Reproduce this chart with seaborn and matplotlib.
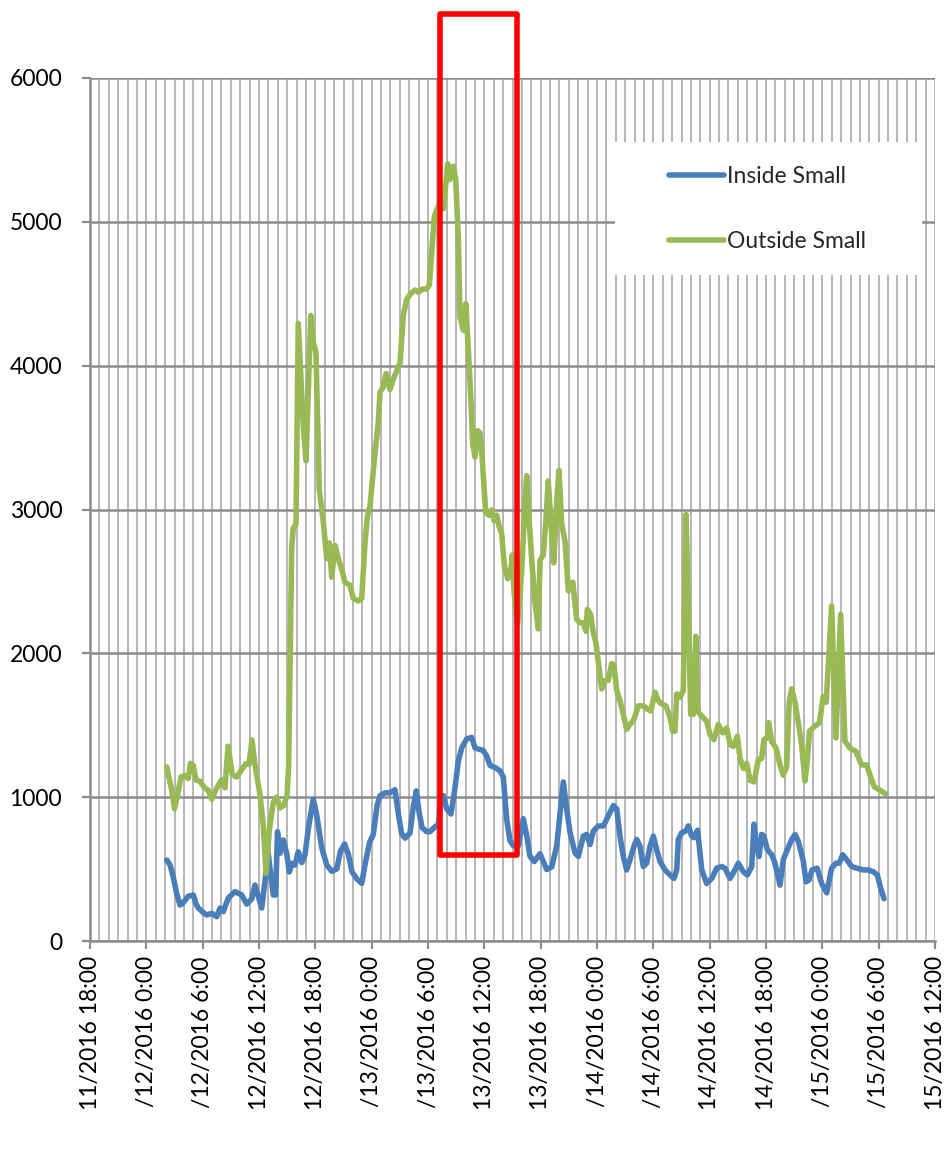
import matplotlib
matplotlib.use("Agg")
import matplotlib.pyplot as plt
import numpy as np
import pandas as pd
import seaborn as sns
from matplotlib.patches import Rectangle
from matplotlib.ticker import MultipleLocator

# ---------------- data (hours after 12/11/2016 18:00) ----------------
outside_hours = [8.17, 8.70, 9.00, 9.37, 9.69, 10.12, 10.47, 10.70, 11.00, 11.29, 11.72, 12.20, 12.57, 12.96,
                 13.50, 14.03, 14.38, 14.70, 15.16, 15.63, 16.14, 16.62, 16.94, 17.25, 17.57, 18.11, 18.46,
                 18.75, 19.10, 19.52, 19.89, 20.24, 20.66, 20.98, 21.16, 21.48, 21.65, 21.94, 22.18, 22.72,
                 23.01, 23.51, 23.78, 24.07, 24.42, 24.85, 25.21, 25.49, 25.74, 26.10, 26.45, 26.81, 27.16,
                 27.69, 28.04, 28.58, 28.94, 29.29, 29.54, 29.82, 30.36, 30.71, 30.89, 31.24, 31.53, 31.95,
                 32.31, 32.67, 33.02, 33.37, 33.73, 34.08, 34.62, 34.97, 35.44, 35.86, 36.14, 36.39, 36.67,
                 37.10, 37.63, 37.89, 38.10, 38.34, 38.70, 38.95, 39.23, 39.41, 39.76, 40.02, 40.29, 40.58,
                 40.76, 41.01, 41.29, 41.54, 41.78, 42.15, 42.50, 42.78, 43.03, 43.32, 43.56, 43.85, 44.13,
                 44.49, 44.84, 44.98, 45.19, 45.55, 45.98, 46.33, 46.51, 46.76, 47.05, 47.40, 47.75, 47.93,
                 48.28, 48.54, 48.81, 49.10, 49.39, 49.71, 49.95, 50.24, 50.59, 50.95, 51.42, 51.84, 52.19,
                 52.54, 52.83, 52.97, 53.33, 53.54, 53.89, 54.25, 54.50, 54.85, 55.20, 55.57, 55.81, 56.10,
                 56.45, 56.80, 57.16, 57.51, 57.94, 58.40, 58.93, 59.36, 59.72, 60.18, 60.53, 60.89, 61.35,
                 61.78, 62.06, 62.31, 62.49, 62.84, 63.19, 63.48, 63.73, 63.98, 64.26, 64.52, 64.71, 64.97,
                 65.32, 65.68, 66.04, 66.46, 66.92, 67.39, 67.82, 68.17, 68.52, 68.95, 69.23, 69.58, 69.94,
                 70.30, 70.72, 71.18, 71.54, 71.78, 72.14, 72.29, 72.61, 73.07, 73.49, 73.84, 74.20, 74.48,
                 74.74, 75.09, 75.44, 75.80, 76.15, 76.40, 76.63, 77.22, 77.70, 78.10, 78.41, 78.99, 79.45,
                 79.95, 80.41, 80.94, 81.58, 82.19, 82.73, 83.13, 83.55, 84.18, 84.72]
outside_small = [1210, 1050, 920, 1030, 1140, 1150, 1130, 1236, 1220, 1119, 1110, 1065, 1050, 985,
                 1064, 1122, 1065, 1355, 1156, 1140, 1190, 1233, 1227, 1398, 1225, 1015, 800,
                 471, 770, 965, 1000, 925, 945, 1010, 1212, 2731, 2874, 2897, 4294, 3577,
                 3338, 4349, 4165, 4092, 3136, 2915, 2658, 2768, 2529, 2750, 2658, 2584, 2492,
                 2474, 2382, 2364, 2382, 2768, 2952, 3025, 3393, 3614, 3816, 3853, 3945, 3834,
                 3908, 3963, 4018, 4349, 4459, 4496, 4526, 4511, 4533, 4533, 4560, 4779, 5037,
                 5110, 5092, 5257, 5404, 5294, 5386, 5294, 4890, 4338, 4246, 4430, 4118, 3750,
                 3456, 3364, 3548, 3530, 3346, 2978, 2960, 2997, 2923, 2960, 2886, 2831, 2611,
                 2519, 2592, 2684, 2408, 2206, 2574, 3052, 3236, 2941, 2647, 2353, 2170, 2647,
                 2684, 2905, 3199, 2905, 2629, 3052, 3272, 2900, 2780, 2435, 2494, 2235, 2212,
                 2212, 2153, 2306, 2271, 2165, 2071, 1882, 1753, 1812, 1812, 1929, 1918, 1741,
                 1671, 1576, 1471, 1506, 1541, 1635, 1635, 1612, 1600, 1729, 1671, 1647, 1635,
                 1553, 1459, 1459, 1718, 1694, 1741, 2965, 2329, 1576, 1576, 2118, 1600, 1576,
                 1553, 1529, 1435, 1400, 1506, 1447, 1482, 1365, 1353, 1424, 1271, 1200, 1235,
                 1118, 1106, 1259, 1271, 1400, 1412, 1518, 1388, 1341, 1224, 1153, 1212, 1671,
                 1753, 1659, 1518, 1365, 1112, 1259, 1459, 1494, 1520, 1700, 1660, 2329, 1412,
                 2271, 1388, 1341, 1318, 1224, 1224, 1141, 1071, 1047, 1024]

inside_hours = [8.17, 8.52, 8.87, 9.23, 9.59, 9.91, 10.44, 11.00, 11.29, 11.53, 12.04, 12.43, 12.96, 13.50,
                13.85, 14.20, 14.73, 15.44, 16.16, 16.69, 17.22, 17.57, 17.93, 18.29, 18.75, 18.90, 19.52,
                19.77, 19.97, 20.24, 20.59, 20.95, 21.23, 21.48, 21.83, 22.18, 22.55, 22.90, 23.25, 23.78,
                24.14, 24.67, 25.21, 25.74, 26.28, 26.68, 27.11, 27.51, 27.91, 28.41, 28.94, 29.29, 29.77,
                30.17, 30.57, 30.89, 31.42, 31.95, 32.48, 32.83, 33.19, 33.55, 34.08, 34.43, 34.75, 35.04,
                35.36, 35.86, 36.21, 36.67, 37.10, 37.38, 37.63, 37.99, 38.45, 38.88, 39.23, 39.59, 40.12,
                40.65, 41.01, 41.54, 41.89, 42.25, 42.60, 43.14, 43.67, 44.02, 44.38, 44.73, 45.09, 45.62,
                46.15, 46.51, 46.86, 47.32, 47.93, 48.28, 48.64, 49.18, 49.71, 50.06, 50.41, 50.77, 51.13,
                51.66, 52.01, 52.54, 52.90, 53.26, 53.61, 54.14, 54.68, 55.03, 55.39, 55.74, 56.10, 56.45,
                56.80, 57.16, 57.51, 57.94, 58.23, 58.58, 58.93, 59.29, 59.65, 60.00, 60.36, 60.71, 61.24,
                61.78, 62.20, 62.49, 62.66, 63.02, 63.48, 63.73, 64.09, 64.33, 64.71, 65.16, 65.68, 66.22,
                66.75, 67.28, 67.63, 68.17, 68.59, 69.05, 69.58, 70.01, 70.48, 70.72, 71.01, 71.26, 71.54,
                71.78, 72.14, 72.61, 72.96, 73.49, 73.84, 74.27, 74.74, 75.09, 75.44, 75.98, 76.26, 76.58,
                76.90, 77.44, 77.93, 78.47, 78.99, 79.45, 79.81, 80.17, 80.59, 81.13, 81.66, 82.37, 82.90,
                83.43, 83.86, 84.22, 84.57]
inside_small = [563, 530, 444, 330, 250, 265, 310, 320, 260, 229, 200, 181, 192, 169,
                229, 204, 299, 343, 320, 257, 292, 389, 308, 229, 480, 650, 320,
                320, 760, 610, 702, 610, 480, 540, 528, 620, 545, 600, 780, 985,
                880, 650, 530, 485, 500, 625, 675, 605, 480, 433, 400, 530, 685,
                740, 940, 1010, 1030, 1030, 1052, 890, 748, 715, 750, 930, 1043, 900,
                790, 760, 760, 790, 809, 993, 1011, 920, 883, 1067, 1250, 1342, 1405,
                1416, 1342, 1331, 1324, 1287, 1221, 1206, 1184, 1140, 846, 699, 662, 662,
                850, 736, 589, 552, 607, 552, 497, 515, 662, 883, 1106, 918, 753,
                612, 588, 729, 741, 671, 765, 800, 800, 847, 894, 941, 918, 729,
                588, 494, 565, 659, 706, 659, 518, 541, 659, 729, 635, 553, 494,
                459, 435, 494, 706, 753, 765, 800, 729, 718, 770, 494, 400, 435,
                506, 518, 506, 435, 482, 541, 482, 459, 518, 812, 659, 588, 741,
                729, 635, 600, 541, 388, 565, 635, 706, 741, 694, 553, 412, 424,
                494, 506, 400, 335, 506, 541, 541, 600, 565, 518, 506, 494, 494,
                482, 459, 365, 294]

series_names = ["Inside Small", "Outside Small"]
series_colors = ["#4A7EBB", "#98B954"]

tick_hours = list(range(0, 91, 6))
tick_labels = ["11/2016 18:00", "/12/2016 0:00", "/12/2016 6:00", "12/2016 12:00",
               "12/2016 18:00", "/13/2016 0:00", "/13/2016 6:00", "13/2016 12:00",
               "13/2016 18:00", "/14/2016 0:00", "/14/2016 6:00", "14/2016 12:00",
               "14/2016 18:00", "/15/2016 0:00", "/15/2016 6:00", "15/2016 12:00"]
y_ticks = [0, 1000, 2000, 3000, 4000, 5000, 6000]

# highlighted window (hours) and its vertical extent (value units)
highlight_hours = [37.33, 45.53]
highlight_values = [601, 6442]

# ---------------- styling ----------------
sns.set_theme(style="white")
plt.rcParams['font.family'] = ['Lato', 'DejaVu Sans']

df = pd.concat([
    pd.DataFrame({"hour": inside_hours, "value": inside_small, "series": series_names[0]}),
    pd.DataFrame({"hour": outside_hours, "value": outside_small, "series": series_names[1]}),
], ignore_index=True)

fig = plt.figure(figsize=(9.47, 11.68), dpi=100)
ax = fig.add_axes([90 / 947, 1 - 941 / 1168, 845 / 947, 863 / 1168])

sns.lineplot(data=df, x="hour", y="value", hue="series", hue_order=series_names,
             palette=series_colors, estimator=None, linewidth=4.0, ax=ax, legend=True)
for ln in ax.get_lines():
    ln.set_solid_joinstyle("round")
    ln.set_solid_capstyle("round")

ax.set_xlim(0, 90)
ax.set_ylim(0, 6000)
ax.set_xticks(tick_hours)
ax.set_xticklabels(tick_labels, rotation=90, fontsize=16.5, color="black")
ax.xaxis.set_minor_locator(MultipleLocator(1))
ax.set_yticks(y_ticks)
ax.set_yticklabels([str(v) for v in y_ticks], fontsize=16.5, color="black")
ax.set_xlabel("")
ax.set_ylabel("")

ax.set_axisbelow(True)
ax.grid(axis="x", which="both", color="#B5B5B5", linewidth=1.4)
ax.grid(axis="y", which="major", color="#8C8C8C", linewidth=1.8)

for s in ["top", "right"]:
    ax.spines[s].set_visible(False)
for s in ["left", "bottom"]:
    ax.spines[s].set_color("#8C8C8C")
    ax.spines[s].set_linewidth(1.8)

ax.tick_params(axis="x", which="major", direction="out", length=6, width=1.6,
               color="#8C8C8C", pad=5, bottom=True)
ax.tick_params(axis="x", which="minor", length=0)
ax.tick_params(axis="y", which="major", direction="out", length=6, width=1.6,
               color="#8C8C8C", pad=14, left=True)

# legend area (white box) and legend
ax.add_patch(Rectangle((615 / 947, 1 - 275 / 1168), 307 / 947, 133 / 1168,
                       transform=fig.transFigure, facecolor="white", edgecolor="none", zorder=3))
handles, labels = ax.get_legend_handles_labels()
ax.get_legend().remove()
leg = ax.legend(handles, labels, loc="upper left", bbox_to_anchor=(669 / 947, 1 - 166 / 1168),
                bbox_transform=fig.transFigure, frameon=False, fontsize=16.5,
                handlelength=2.4, handletextpad=0.15, labelspacing=1.9, borderpad=0,
                borderaxespad=0)
leg.set_zorder(5)
for h in leg.get_lines():
    h.set_linewidth(4.0)
    h.set_solid_capstyle("round")

# highlighted window
ax.add_patch(Rectangle((highlight_hours[0], highlight_values[0]),
                       highlight_hours[1] - highlight_hours[0],
                       highlight_values[1] - highlight_values[0],
                       fill=False, edgecolor="#FF0000", linewidth=4.0, clip_on=False, zorder=6,
                       joinstyle="round"))

fig.savefig("out.png", dpi=100)
